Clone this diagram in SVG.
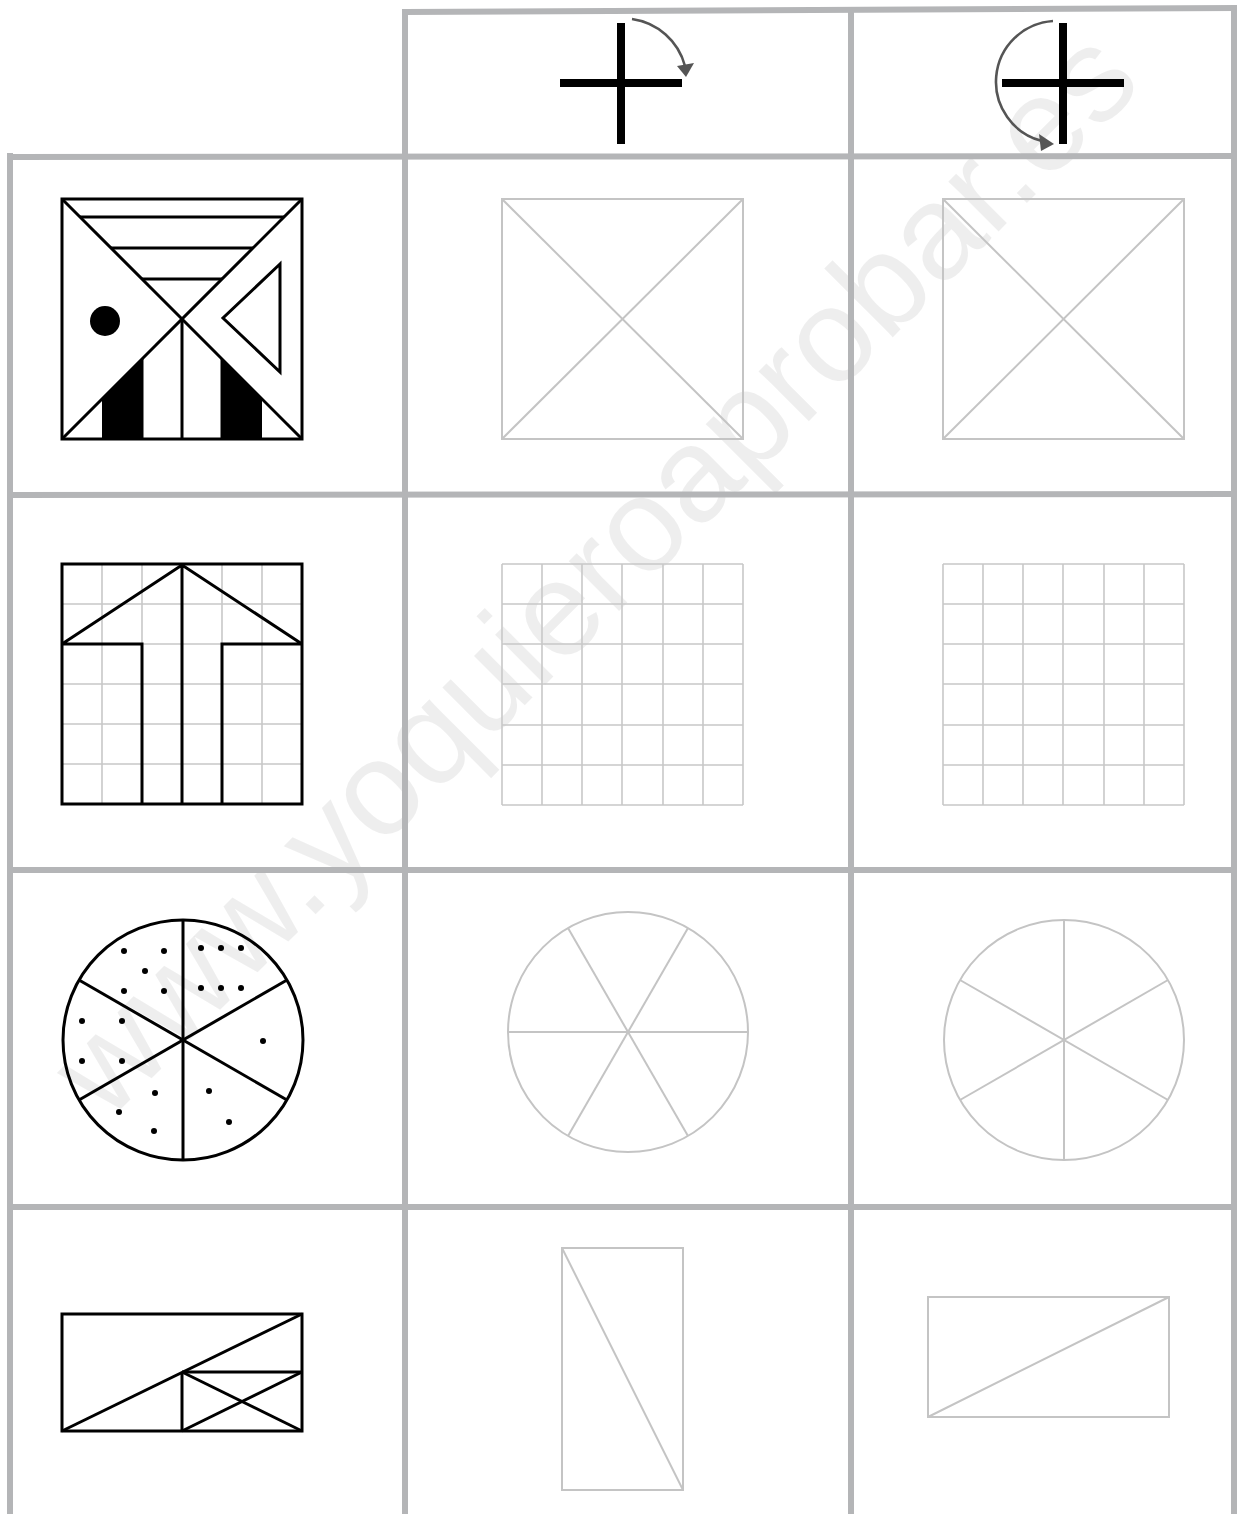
<svg xmlns="http://www.w3.org/2000/svg" width="1240" height="1514" viewBox="0 0 1240 1514">
<style>
.tbl{stroke:#b4b5b7;stroke-width:6;fill:none;stroke-linecap:square}
.blk{stroke:#000;fill:none;stroke-width:3}
.gry{stroke:#c4c4c4;fill:none;stroke-width:2}
.grid{stroke:#c8c8c8;fill:none;stroke-width:1.6}
.arr{stroke:#555;fill:none;stroke-width:2.6}
.wm{font-family:"Liberation Sans",Arial,sans-serif;font-size:134px;fill:#000;fill-opacity:0.065}
</style>
<rect width="1240" height="1514" fill="#fff"/>
<g id="watermark">
<text class="wm" transform="translate(107,1123) rotate(-45)" x="0" y="0">www.yoquieroaprobar.es</text>
</g>
<g id="table">
<line class="tbl" x1="405" y1="12" x2="1234" y2="8"/>
<line class="tbl" x1="10" y1="157" x2="1234" y2="156"/>
<line class="tbl" x1="10" y1="495" x2="1234" y2="494"/>
<line class="tbl" x1="10" y1="870" x2="1234" y2="870"/>
<line class="tbl" x1="10" y1="1207" x2="1234" y2="1207"/>
<line class="tbl" x1="10" y1="1517" x2="1234" y2="1517"/>
<line class="tbl" x1="10" y1="156" x2="10" y2="1514"/>
<line class="tbl" x1="405" y1="12" x2="405" y2="1514"/>
<line class="tbl" x1="851" y1="10" x2="851" y2="1514"/>
<line class="tbl" x1="1234" y1="8" x2="1234" y2="1514"/>
</g>
<g id="header-rot90">
<rect x="617" y="23" width="8" height="121" fill="#000"/>
<rect x="560" y="79" width="122" height="8" fill="#000"/>
<path class="arr" d="M632,19 A64,64 0 0 1 685,66"/>
<polygon points="677,66 694,63 686,77" fill="#555"/>
</g>
<g id="header-rot180">
<rect x="1059" y="23" width="8" height="121" fill="#000"/>
<rect x="1002" y="79" width="122" height="8" fill="#000"/>
<path class="arr" d="M1053,21 A61,61 0 0 0 1042,141"/>
<polygon points="1039,134 1054,144 1041,151" fill="#555"/>
</g>
<g id="fig1-original">
<polygon points="102,439 102,399 142,359 142,439" fill="#000"/>
<polygon points="222,359 262,399 262,439 222,439" fill="#000"/>
<line class="blk" x1="62" y1="199" x2="302" y2="439"/>
<line class="blk" x1="302" y1="199" x2="62" y2="439"/>
<line class="blk" stroke-width="2.5" x1="80" y1="217" x2="284" y2="217"/>
<line class="blk" stroke-width="2.5" x1="111" y1="248" x2="253" y2="248"/>
<line class="blk" stroke-width="2.5" x1="142" y1="279" x2="222" y2="279"/>
<line class="blk" stroke-width="2.5" x1="182" y1="319" x2="182" y2="439"/>
<line class="blk" stroke-width="2.5" x1="142" y1="359" x2="142" y2="439"/>
<line class="blk" stroke-width="2.5" x1="222" y1="359" x2="222" y2="439"/>
<circle cx="105" cy="321" r="15" fill="#000"/>
<polygon class="blk" stroke-width="2.2" points="280,264 223,318 280,372"/>
<rect class="blk" stroke-width="3.6" x="62" y="199" width="240" height="240"/>
</g>
<g id="fig1-rot90">
<rect class="gry" x="502" y="199" width="241" height="240"/>
<line class="gry" x1="502" y1="199" x2="743" y2="439"/>
<line class="gry" x1="743" y1="199" x2="502" y2="439"/>
</g>
<g id="fig1-rot180">
<rect class="gry" x="943" y="199" width="241" height="240"/>
<line class="gry" x1="943" y1="199" x2="1184" y2="439"/>
<line class="gry" x1="1184" y1="199" x2="943" y2="439"/>
</g>
<g id="fig2-original">
<path class="grid" d="M102,564V804M142,564V804M182,564V804M222,564V804M262,564V804M62,604H302M62,644H302M62,684H302M62,724H302M62,764H302"/>
<path class="blk" stroke-linejoin="miter" d="M62,644 L182,565 L302,644 M62,644 H142 V804 M302,644 H222 V804 M182,565 V804"/>
<rect class="blk" stroke-width="3.2" x="62" y="564" width="240" height="240"/>
</g>
<g id="fig2-rot90">
<path class="grid" d="M502,564V805M542,564V805M582,564V805M622,564V805M663,564V805M703,564V805M743,564V805M502,564H743M502,604H743M502,644H743M502,684H743M502,725H743M502,765H743M502,805H743"/>
</g>
<g id="fig2-rot180">
<path class="grid" d="M943,564V805M983,564V805M1023,564V805M1063,564V805M1104,564V805M1144,564V805M1184,564V805M943,564H1184M943,604H1184M943,644H1184M943,684H1184M943,725H1184M943,765H1184M943,805H1184"/>
</g>
<g id="fig3-original">
<circle class="blk" stroke-width="3.4" cx="183" cy="1040" r="120"/>
<line class="blk" x1="183" y1="920" x2="183" y2="1160"/>
<line class="blk" x1="79" y1="980" x2="287" y2="1100"/>
<line class="blk" x1="79" y1="1100" x2="287" y2="980"/>
<g fill="#000">
<circle cx="124" cy="951" r="3"/><circle cx="164" cy="951" r="3"/><circle cx="145" cy="971" r="3"/><circle cx="124" cy="991" r="3"/><circle cx="164" cy="991" r="3"/>
<circle cx="201" cy="948" r="3"/><circle cx="221" cy="948" r="3"/><circle cx="241" cy="948" r="3"/><circle cx="201" cy="988" r="3"/><circle cx="221" cy="988" r="3"/><circle cx="241" cy="988" r="3"/>
<circle cx="82" cy="1021" r="3"/><circle cx="122" cy="1021" r="3"/><circle cx="82" cy="1061" r="3"/><circle cx="122" cy="1061" r="3"/>
<circle cx="263" cy="1041" r="3"/>
<circle cx="155" cy="1093" r="3"/><circle cx="119" cy="1112" r="3"/><circle cx="154" cy="1131" r="3"/>
<circle cx="209" cy="1091" r="3"/><circle cx="229" cy="1122" r="3"/>
</g>
</g>
<g id="fig3-rot90">
<circle class="gry" cx="628" cy="1032" r="120"/>
<line class="gry" x1="508" y1="1032" x2="748" y2="1032"/>
<line class="gry" x1="568" y1="928" x2="688" y2="1136"/>
<line class="gry" x1="688" y1="928" x2="568" y2="1136"/>
</g>
<g id="fig3-rot180">
<circle class="gry" cx="1064" cy="1040" r="120"/>
<line class="gry" x1="1064" y1="920" x2="1064" y2="1160"/>
<line class="gry" x1="960" y1="980" x2="1168" y2="1100"/>
<line class="gry" x1="960" y1="1100" x2="1168" y2="980"/>
</g>
<g id="fig4-original">
<rect class="blk" stroke-width="3.2" x="62" y="1314" width="240" height="117"/>
<line class="blk" x1="62" y1="1431" x2="302" y2="1314"/>
<line class="blk" x1="182" y1="1372" x2="302" y2="1372"/>
<line class="blk" x1="182" y1="1372" x2="182" y2="1431"/>
<line class="blk" x1="182" y1="1372" x2="302" y2="1431"/>
<line class="blk" x1="182" y1="1431" x2="302" y2="1372"/>
</g>
<g id="fig4-rot90">
<rect class="gry" x="562" y="1248" width="121" height="242"/>
<line class="gry" x1="562" y1="1248" x2="683" y2="1490"/>
</g>
<g id="fig4-rot180">
<rect class="gry" x="928" y="1297" width="241" height="120"/>
<line class="gry" x1="928" y1="1417" x2="1169" y2="1297"/>
</g>
</svg>
